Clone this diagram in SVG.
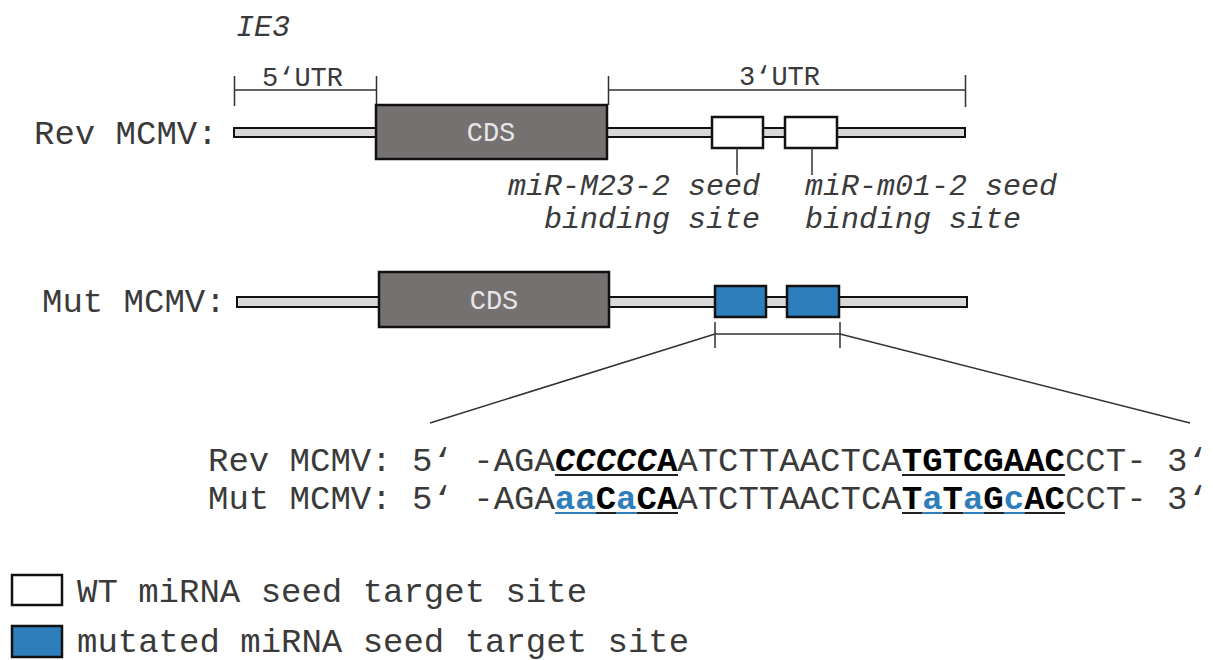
<svg xmlns="http://www.w3.org/2000/svg" width="1213" height="660" viewBox="0 0 1213 660">
<style>
.t{font-family:"Liberation Mono","Courier New",monospace;fill:#3a3a3a}
.big{font-size:34px}
.it{font-family:"Liberation Mono","Courier New",monospace;font-style:italic;font-size:30px;fill:#3a3a3a}
.utr{font-family:"Liberation Mono","Courier New",monospace;font-size:27px;fill:#3a3a3a}
.cds{font-family:"Liberation Mono","Courier New",monospace;font-size:27px;fill:#e6e6e6}
.bar{fill:#d9d9d9;stroke:#111;stroke-width:2}
.cdsbox{fill:#767171;stroke:#111;stroke-width:2.5}
.wt{fill:#fff;stroke:#111;stroke-width:2.5}
.mut{fill:#2e7ebc;stroke:#111;stroke-width:2.5}
.ln{stroke:#333;stroke-width:1.5;fill:none}
.b{font-weight:bold;fill:#000}
.bl{font-weight:bold;fill:#2e7ebc}
</style>
<text class="it" x="236" y="36" font-size="32">IE3</text>
<g id="utr5">
<path class="ln" d="M234.5 76V106M234.5 90H376.5M376.5 76V105"/>
<text class="utr" x="262" y="86">5‘UTR</text>
</g>
<g id="utr3">
<path class="ln" d="M608.5 76V105M608.5 90H965.5M965.5 75V107"/>
<text class="utr" x="739" y="85">3‘UTR</text>
</g>
<g id="rev">
<text class="t big" x="34" y="144">Rev MCMV:</text>
<rect class="bar" x="234" y="128" width="731" height="9"/>
<rect class="cdsbox" x="376" y="105" width="231" height="54"/>
<text class="cds" x="491" y="141" text-anchor="middle">CDS</text>
<rect class="wt" x="712" y="117" width="51" height="31"/>
<rect class="wt" x="785" y="117" width="52" height="31"/>
<path class="ln" d="M737 148V175M812 148V175"/>
<text class="it" x="760" y="195" text-anchor="end">miR-M23-2 seed</text>
<text class="it" x="760" y="228" text-anchor="end">binding site</text>
<text class="it" x="805" y="195">miR-m01-2 seed</text>
<text class="it" x="805" y="228">binding site</text>
</g>
<g id="mut">
<text class="t big" x="42" y="312">Mut MCMV:</text>
<rect class="bar" x="237" y="297" width="730" height="10"/>
<rect class="cdsbox" x="379" y="272" width="230" height="55"/>
<text class="cds" x="494" y="309" text-anchor="middle">CDS</text>
<rect class="mut" x="715" y="286" width="51" height="31"/>
<rect class="mut" x="787" y="286" width="52" height="31"/>
</g>
<g id="connectors">
<path class="ln" d="M715 322V348M840 322V348M715 334H840"/>
<path class="ln" d="M715 334L430 423M840 334L1190 423"/>
</g>
<g id="sequences">
<text class="t big" x="208" y="471" xml:space="preserve">Rev MCMV: 5‘ -AGA<tspan class="b" font-style="italic">CCCCC</tspan><tspan class="b">A</tspan>ATCTTAACTCA<tspan class="b">TGTCGAAC</tspan>CCT- 3‘</text>
<text class="t big" x="208" y="509" xml:space="preserve">Mut MCMV: 5‘ -AGA<tspan class="bl">aa</tspan><tspan class="b">C</tspan><tspan class="bl">a</tspan><tspan class="b">CA</tspan>ATCTTAACTCA<tspan class="b">T</tspan><tspan class="bl">a</tspan><tspan class="b">T</tspan><tspan class="bl">a</tspan><tspan class="b">G</tspan><tspan class="bl">c</tspan><tspan class="b">AC</tspan>CCT- 3‘</text>
<path stroke="#222" stroke-width="1.8" d="M555 475H678M902 475H1065"/>
<path stroke-width="1.8" stroke="#2e7ebc" d="M555 513H596M616.4 513H637M922.4 513H943M963.2 513H984M1004 513H1024.4"/>
<path stroke-width="1.8" stroke="#222" d="M596 513H616.4M637 513H678M902 513H922.4M943 513H963.2M984 513H1004M1024.4 513H1065"/>
</g>
<g id="legend">
<rect class="wt" x="12" y="575" width="50" height="30"/>
<rect class="mut" x="12" y="626" width="50" height="31"/>
<text class="t big" x="77" y="602">WT miRNA seed target site</text>
<text class="t big" x="77" y="652">mutated miRNA seed target site</text>
</g>
</svg>
